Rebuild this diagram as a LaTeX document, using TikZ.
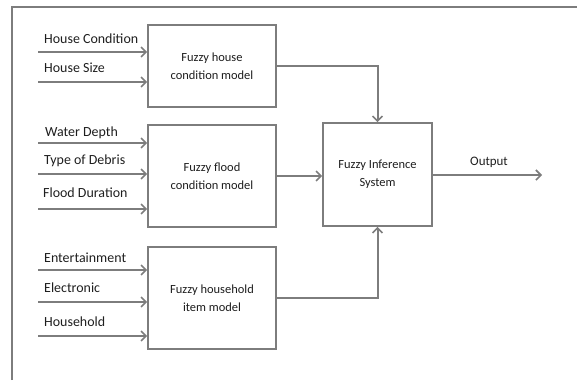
\documentclass[tikz,border=0pt]{standalone}
\usepackage{fontspec}
\setmainfont{Carlito}
\usetikzlibrary{arrows.meta}
\definecolor{linegray}{RGB}{125,125,125}
\definecolor{txt}{RGB}{30,30,30}
\tikzset{
  box/.style={draw=linegray, line width=1.6bp, fill=white, inner sep=0pt, align=center, font=\fontsize{12.5}{18}\selectfont, text=txt},
  lbl/.style={anchor=west, inner sep=0pt, font=\fontsize{14}{16}\selectfont, text=txt},
  arr/.style={draw=linegray, line width=2bp, -{Straight Barb[length=5bp,width=10bp,line width=1.6bp]}},
  frame/.style={draw=linegray, line width=1.5bp}
}
\begin{document}
\begin{tikzpicture}[x=1bp,y=-1bp]
\useasboundingbox (0,0) rectangle (577,380);
\draw[frame] (12,380) -- (12,7) -- (577,7);
% boxes
\node[box, minimum width=128bp, minimum height=82bp] (b1) at (212,66) {Fuzzy house\\condition model};
\node[box, minimum width=128bp, minimum height=102bp] (b2) at (212,176) {Fuzzy flood\\condition model};
\node[box, minimum width=128bp, minimum height=102bp] (b3) at (212,298) {Fuzzy household\\item model};
\node[box, minimum width=109bp, minimum height=103bp] (fis) at (377.5,174.5) {Fuzzy Inference\\System};
% input coordinates
\coordinate (i1) at (38,52);
\coordinate (i2) at (38,82);
\coordinate (i3) at (38,143);
\coordinate (i4) at (38,174);
\coordinate (i5) at (38,209);
\coordinate (i6) at (38,270);
\coordinate (i7) at (38,302);
\coordinate (i8) at (38,336);
\draw[arr] (i1) -- (i1 -| b1.west);
\draw[arr] (i2) -- (i2 -| b1.west);
\draw[arr] (i3) -- (i3 -| b2.west);
\draw[arr] (i4) -- (i4 -| b2.west);
\draw[arr] (i5) -- (i5 -| b2.west);
\draw[arr] (i6) -- (i6 -| b3.west);
\draw[arr] (i7) -- (i7 -| b3.west);
\draw[arr] (i8) -- (i8 -| b3.west);
% labels
\node[lbl] (l1) at (44,39) {House Condition};
\node[lbl] (l2) at (44,68) {House Size};
\node[lbl] (l3) at (45,133) {Water Depth};
\node[lbl] (l4) at (44,161) {Type of Debris};
\node[lbl] (l5) at (43,193) {Flood Duration};
\node[lbl] (l6) at (44,258) {Entertainment};
\node[lbl] (l7) at (44,288) {Electronic};
\node[lbl] (l8) at (44,322) {Household};
% connections to FIS
\draw[arr] (b1.east) -| (fis.north);
\draw[arr] (b2.east) -- (b2.east -| fis.west);
\draw[arr] (b3.east) -| (fis.south);
\coordinate (out) at (542,175);
\draw[arr] (fis.east |- out) -- (out);
\node[inner sep=0pt, font=\fontsize{13}{15}\selectfont, text=txt] (ol) at (489,162) {Output};
\end{tikzpicture}
\end{document}
